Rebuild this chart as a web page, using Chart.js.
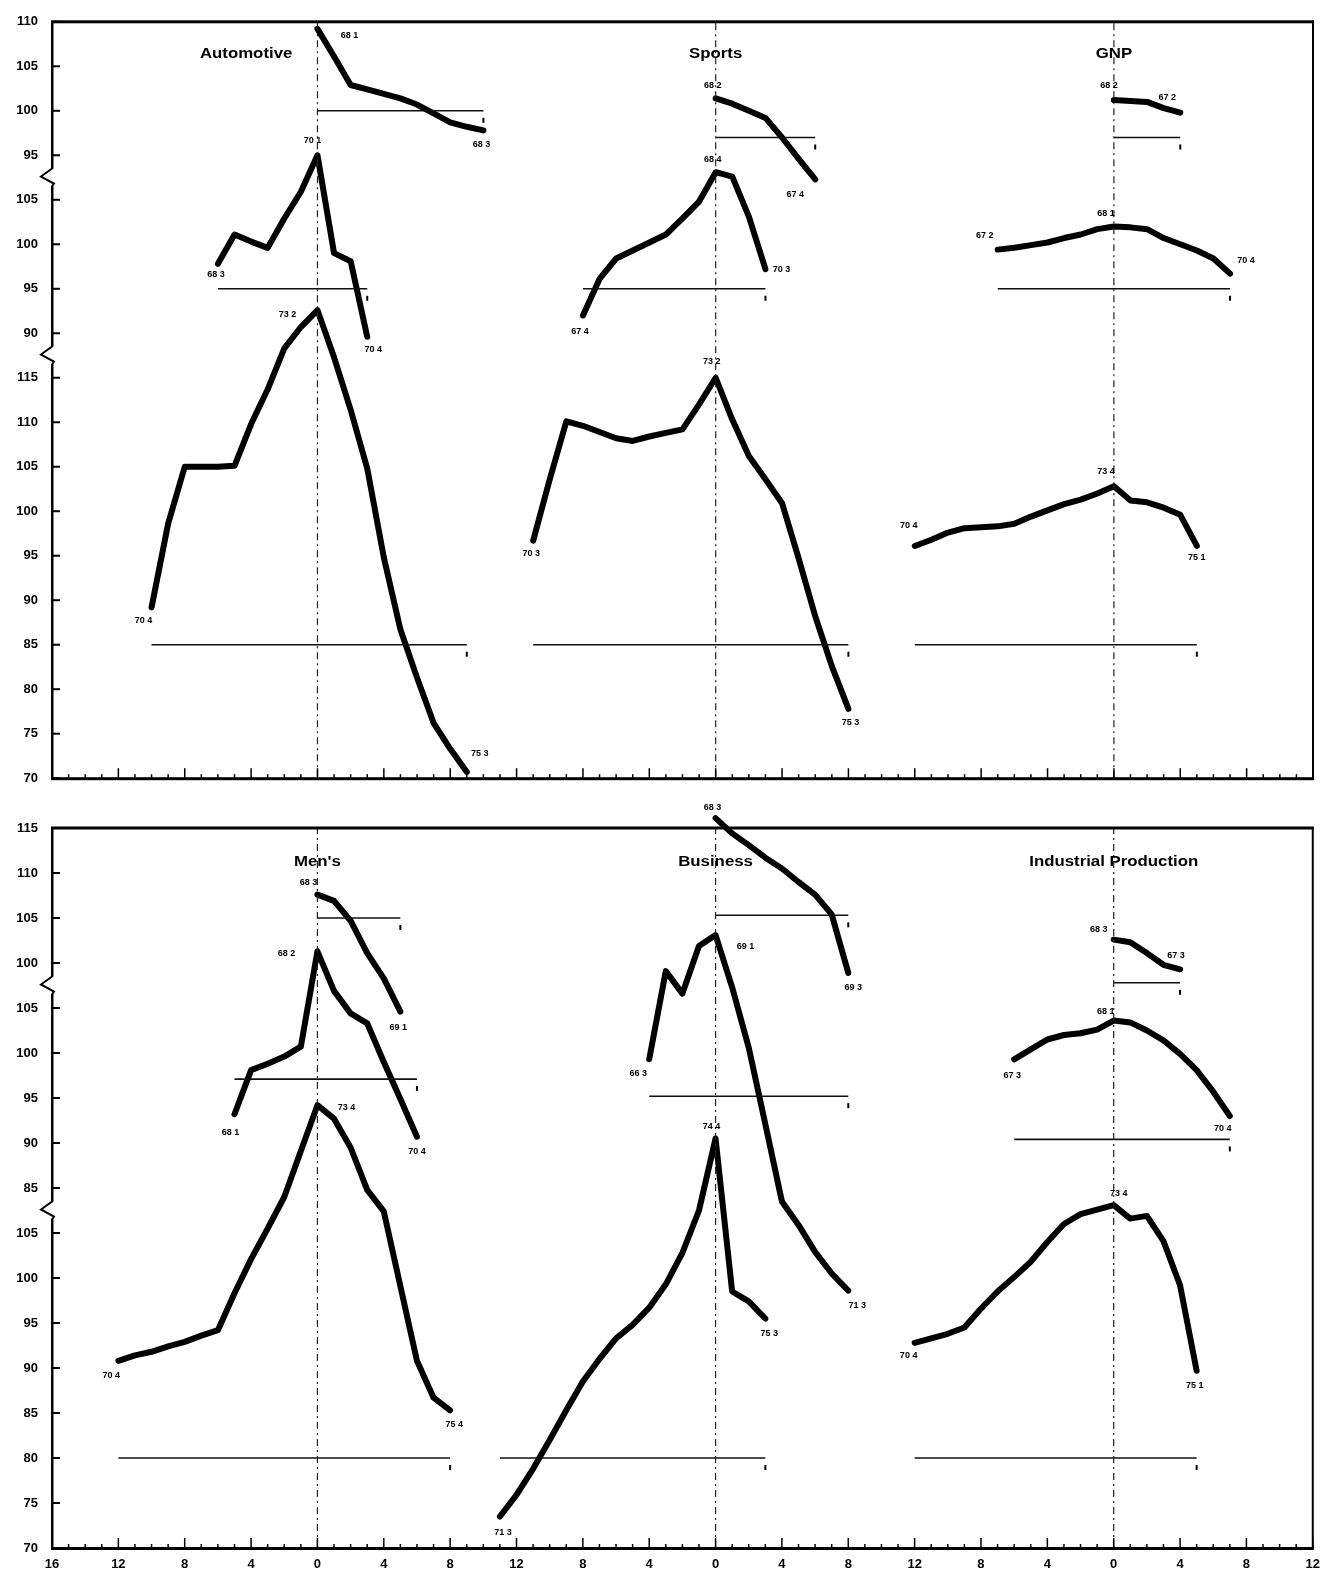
<!DOCTYPE html>
<html>
<head>
<meta charset="utf-8">
<script src="https://cdn.jsdelivr.net/npm/chart.js@4.4.0/dist/chart.umd.min.js"></script>
<style>
  html, body { margin: 0; padding: 0; background: #fff; }
  #wrap { position: relative; width: 1329px; height: 1576px; }
  .panel { position: absolute; left: 0; width: 1329px; }
  #topPanel { top: 0; height: 800px; }
  #bottomPanel { top: 800px; height: 776px; }
</style>
</head>
<body>
<div id="wrap">
  <div class="panel" id="topPanel"><canvas id="topChart"></canvas></div>
  <div class="panel" id="bottomPanel"><canvas id="bottomChart"></canvas></div>
</div>
<script>
// x axis in quarters, one tick every 4 quarters; each group is centred on its peak quarter
const xTickLabels = ["16", "12", "8", "4", "0", "4", "8", "12", "8", "4", "0", "4", "8", "12", "8", "4", "0", "4", "8", "12"];
const groupCenters = [16, 40, 64];

// stacked (broken) y scales, listed from the bottom up
const topYTicks = [70, 75, 80, 85, 90, 95, 100, 105, 110, 115, 90, 95, 100, 105, 95, 100, 105, 110];
const bottomYTicks = [70, 75, 80, 85, 90, 95, 100, 105, 85, 90, 95, 100, 105, 100, 105, 110, 115];
// value - offset = position on the stacked axis (upper, middle, lower tier)
const topTierOffsets = [25, 40, 70];
const bottomTierOffsets = [35, 45, 70];
const topBreaks = [47.5, 67.5];
const bottomBreaks = [37.5, 62.5];

const topTitles = ["Automotive", "Sports", "GNP"];
const bottomTitles = ["Men's", "Business", "Industrial Production"];

// index values, one per quarter
const autoUpper = [109.2, 106.1, 102.9, 102.4, 101.9, 101.4, 100.7, 99.7, 98.7, 98.2, 97.8];
const autoMiddle = [97.8, 101.1, 100.3, 99.6, 102.9, 105.9, 110.0, 99.0, 98.1, 89.6];
const autoLower = [89.2, 98.6, 105.0, 105.0, 105.0, 105.1, 109.8, 113.7, 118.3, 120.7, 122.6, 117.3, 111.4, 104.8, 94.8, 86.7, 81.3, 76.2, 73.3, 70.7];

const sportsUpper = [101.4, 100.8, 100.0, 99.2, 97.0, 94.6, 92.3];
const sportsMiddle = [92.0, 96.1, 98.4, 99.3, 100.2, 101.1, 102.9, 104.8, 108.1, 107.6, 103.1, 97.2];
const sportsLower = [96.7, 103.6, 110.1, 109.6, 108.9, 108.2, 107.9, 108.4, 108.8, 109.2, 112.0, 115.0, 110.3, 106.2, 103.6, 100.9, 94.7, 88.2, 82.6, 77.8];

const gnpUpper = [101.2, 101.1, 101.0, 100.3, 99.8];
const gnpMiddle = [99.4, 99.6, 99.9, 100.2, 100.7, 101.1, 101.7, 102.0, 101.9, 101.7, 100.7, 100.0, 99.3, 98.4, 96.7];
const gnpLower = [96.1, 96.8, 97.6, 98.1, 98.2, 98.3, 98.6, 99.4, 100.1, 100.8, 101.3, 102.0, 102.8, 101.2, 101.0, 100.4, 99.6, 96.1];

const mensUpper = [107.6, 106.9, 104.7, 101.1, 98.3, 94.6];
const mensMiddle = [93.2, 98.1, 98.8, 99.6, 100.7, 111.3, 106.9, 104.4, 103.3, 99.0, 94.9, 90.7];
const mensLower = [90.8, 91.4, 91.8, 92.4, 92.9, 93.6, 94.2, 98.3, 102.1, 105.5, 109.0, 114.1, 119.2, 117.7, 114.5, 109.8, 107.4, 99.1, 90.8, 86.7, 85.3];

const businessUpper = [116.1, 114.4, 113.1, 111.7, 110.5, 109.0, 107.6, 105.4, 98.9];
const businessMiddle = [99.3, 109.1, 106.6, 111.9, 113.1, 107.3, 100.6, 92.1, 83.5, 80.9, 77.9, 75.5, 73.6];
const businessLower = [73.5, 75.9, 78.8, 82.0, 85.3, 88.5, 91.0, 93.3, 94.8, 96.7, 99.3, 102.8, 107.5, 115.5, 98.5, 97.4, 95.5];

const industrialUpper = [102.6, 102.3, 101.1, 99.8, 99.3];
const industrialMiddle = [99.3, 100.4, 101.5, 102.0, 102.2, 102.6, 103.6, 103.4, 102.5, 101.4, 99.9, 98.1, 95.7, 93.0];
const industrialLower = [92.8, 93.3, 93.8, 94.5, 96.6, 98.5, 100.1, 101.8, 104.0, 106.0, 107.1, 107.6, 108.1, 106.6, 106.9, 104.1, 99.2, 89.7];

// first quarter of each series, relative to the group's centre
const topStarts = [[0, -6, -10], [0, -8, -11], [0, -7, -12]];
const bottomStarts = [[0, -5, -12], [0, -4, -13], [0, -6, -12]];

// reference level drawn under each series
const topBaselines = [[100, 95, 85], [97, 95, 85], [97, 95, 85]];
const bottomBaselines = [[105, 97.1, 80], [105.3, 95.2, 80], [97.8, 90.4, 80]];

// start / peak / end labels (year, quarter)
const topPointLabels = [
  [["68 1", null, "68 3"], ["68 3", "70 1", "70 4"], ["70 4", "73 2", "75 3"]],
  [["68 2", null, "67 4"], ["67 4", "68 4", "70 3"], ["70 3", "73 2", "75 3"]],
  [["68 2", null, "67 2"], ["67 2", "68 1", "70 4"], ["70 4", "73 4", "75 1"]]
];
const bottomPointLabels = [
  [["68 3", null, "69 1"], ["68 1", "68 2", "70 4"], ["70 4", "73 4", "75 4"]],
  [["68 3", null, "69 3"], ["66 3", "69 1", "71 3"], ["71 3", "74 4", "75 3"]],
  [["68 3", null, "67 3"], ["67 3", "68 1", "70 4"], ["70 4", "73 4", "75 1"]]
];

const topGroups = [
  [autoUpper, autoMiddle, autoLower],
  [sportsUpper, sportsMiddle, sportsLower],
  [gnpUpper, gnpMiddle, gnpLower]
];
const bottomGroups = [
  [mensUpper, mensMiddle, mensLower],
  [businessUpper, businessMiddle, businessLower],
  [industrialUpper, industrialMiddle, industrialLower]
];

// label nudges in px: [dx, dy] for start, peak, end
const topNudges = [
  [[[32, 7], null, [-2, 14]], [[-2, 11], [-5, -15], [6, 13]], [[-8, 13], [-30, 4], [13, -18]]],
  [[[-3, -13], null, [-20, 15]], [[-3, 16], [-3, -13], [16, 0]], [[-2, 13], [-4, -16], [2, 14]]],
  [[[-5, -15], null, [-13, -15]], [[-13, -14], [-8, -13], [16, -13]], [[-6, -20], [-8, -15], [0, 12]]]
];
const bottomNudges = [
  [[[-9, -12], null, [-2, 16]], [[-4, 18], [-31, 2], [0, 15]], [[-7, 15], [29, 2], [4, 14]]],
  [[[-3, -11], null, [5, 15]], [[-11, 14], [30, 11], [9, 15]], [[3, 16], [-4, -12], [4, 15]]],
  [[[-15, -10], null, [-4, -14]], [[-2, 16], [-8, -9], [-7, 13]], [[-6, 13], [5, -12], [-2, 15]]]
];

function buildDatasets(groups, starts, offsets, baselines, yMax) {
  const ds = [];
  groups.forEach((tiers, g) => {
    const c = groupCenters[g];
    ds.push({
      data: [{ x: c, y: 0 }, { x: c, y: yMax }],
      borderColor: "#222", borderWidth: 1.2, borderDash: [7, 4, 2, 4], kind: "center"
    });
    tiers.forEach((vals, t) => {
      const s = starts[g][t];
      const pts = vals.map((v, i) => ({ x: c + s + i, y: v - offsets[t] }));
      const b = baselines[g][t] - offsets[t];
      ds.push({
        data: [{ x: pts[0].x, y: b }, { x: pts[pts.length - 1].x, y: b }],
        borderColor: "#111", borderWidth: 1.6, kind: "base"
      });
      ds.push({
        data: pts, borderColor: "#000", borderWidth: 6,
        borderCapStyle: "round", borderJoinStyle: "round",
        kind: "series", g: g, t: t
      });
    });
  });
  return ds;
}

const decor = {
  id: "decor",
  afterDatasetsDraw(chart, args, o) {
    const ctx = chart.ctx;
    const a = chart.chartArea;
    const xs = chart.scales.x, ys = chart.scales.y;
    ctx.save();
    ctx.fillStyle = "#000";
    ctx.strokeStyle = "#000";

    // frame
    ctx.fillRect(a.left - 1, a.top - 1, 2.5, a.bottom - a.top + 2);
    ctx.fillRect(a.left - 1, a.bottom - 1, a.right - a.left + 2, 3);
    ctx.fillRect(a.left - 1, a.top - 1.5, a.right - a.left + 2, 3);
    ctx.fillRect(a.right - 1, a.top - 1, 2, a.bottom - a.top + 2);

    // inner ticks
    for (let v = 0; v <= ys.max; v += 5) {
      const y = ys.getPixelForValue(v);
      ctx.fillRect(a.left, y - 1, 8, 2);
    }
    for (let u = 0; u <= xs.max; u++) {
      const x = xs.getPixelForValue(u);
      const h = u % 4 === 0 ? 10 : 4;
      ctx.fillRect(x - 0.75, a.bottom - h, 1.5, h);
    }

    // axis breaks
    ctx.lineWidth = 2;
    o.breaks.forEach(v => {
      const y = ys.getPixelForValue(v);
      ctx.fillStyle = "#fff";
      ctx.fillRect(a.left - 2, y - 9, 5, 18);
      ctx.beginPath();
      ctx.moveTo(a.left, y - 13);
      ctx.lineTo(a.left, y - 9);
      ctx.lineTo(a.left - 11, y - 1);
      ctx.lineTo(a.left + 2, y + 6);
      ctx.lineTo(a.left, y + 9);
      ctx.lineTo(a.left, y + 13);
      ctx.stroke();
    });
    ctx.fillStyle = "#000";

    // baseline end marks
    chart.data.datasets.forEach((d, i) => {
      if (d.kind !== "base") return;
      const pts = chart.getDatasetMeta(i).data;
      const p = pts[pts.length - 1];
      ctx.fillRect(p.x - 1, p.y + 7, 2, 5);
    });

    // titles
    ctx.font = "bold 14px 'Liberation Sans', Arial, sans-serif";
    ctx.textAlign = "center";
    ctx.textBaseline = "middle";
    o.titles.forEach((txt, g) => {
      const x = xs.getPixelForValue(groupCenters[g] + o.titleShift[g]);
      ctx.save();
      ctx.translate(x, a.top + o.titleDy);
      ctx.scale(1.2, 1);
      ctx.fillText(txt, 0, 0);
      ctx.restore();
    });

    // point labels
    ctx.font = "bold 9px 'Liberation Sans', Arial, sans-serif";
    chart.data.datasets.forEach((d, i) => {
      if (d.kind !== "series") return;
      const pts = chart.getDatasetMeta(i).data;
      const vals = d.data.map(p => p.y);
      const peak = vals.indexOf(Math.max(...vals));
      const idx = [0, peak, pts.length - 1];
      const texts = o.labels[d.g][d.t];
      const nudges = o.nudges[d.g][d.t];
      texts.forEach((txt, k) => {
        if (!txt) return;
        const p = pts[idx[k]];
        ctx.fillText(txt, p.x + nudges[k][0], p.y + nudges[k][1]);
      });
    });
    ctx.restore();
  }
};

function makeChart(id, opts) {
  const tickFont = { family: "'Liberation Sans', Arial, sans-serif", size: 13, weight: "bold" };
  return new Chart(document.getElementById(id), {
    type: "line",
    data: { datasets: buildDatasets(opts.groups, opts.starts, opts.offsets, opts.baselines, opts.yMax) },
    plugins: [decor],
    options: {
      responsive: true,
      maintainAspectRatio: false,
      animation: false,
      layout: { padding: { left: 0, right: 16, top: opts.padTop, bottom: 0 } },
      elements: { point: { radius: 0 }, line: { tension: 0, fill: false } },
      datasets: { line: { clip: false } },
      plugins: {
        legend: { display: false },
        tooltip: { enabled: false },
        decor: {
          breaks: opts.breaks, titles: opts.titles, titleShift: opts.titleShift,
          titleDy: opts.titleDy, labels: opts.labels, nudges: opts.nudges
        }
      },
      scales: {
        x: {
          type: "linear", min: 0, max: 76,
          grid: { display: false, drawTicks: false },
          border: { display: false },
          ticks: {
            display: opts.showX, stepSize: 4, autoSkip: false, maxRotation: 0,
            padding: 9, color: "#000", font: tickFont,
            callback: v => xTickLabels[v / 4]
          },
          afterFit: s => { s.height = opts.xHeight; }
        },
        y: {
          type: "linear", min: 0, max: opts.yMax,
          grid: { display: false, drawTicks: false },
          border: { display: false },
          ticks: {
            stepSize: 5, autoSkip: false, padding: 14, color: "#000", font: tickFont,
            callback: v => opts.yTicks[v / 5]
          },
          afterFit: s => { s.width = 52; }
        }
      }
    }
  });
}

makeChart("topChart", {
  groups: topGroups, starts: topStarts, offsets: topTierOffsets, baselines: topBaselines,
  yMax: 85, yTicks: topYTicks, breaks: topBreaks, titles: topTitles, titleShift: [-4.3, 0, 0],
  titleDy: 32, labels: topPointLabels, nudges: topNudges, padTop: 13, xHeight: 18, showX: false
});
makeChart("bottomChart", {
  groups: bottomGroups, starts: bottomStarts, offsets: bottomTierOffsets, baselines: bottomBaselines,
  yMax: 80, yTicks: bottomYTicks, breaks: bottomBreaks, titles: bottomTitles, titleShift: [0, 0, 0],
  titleDy: 34, labels: bottomPointLabels, nudges: bottomNudges, padTop: 28, xHeight: 28, showX: true
});
</script>
</body>
</html>
